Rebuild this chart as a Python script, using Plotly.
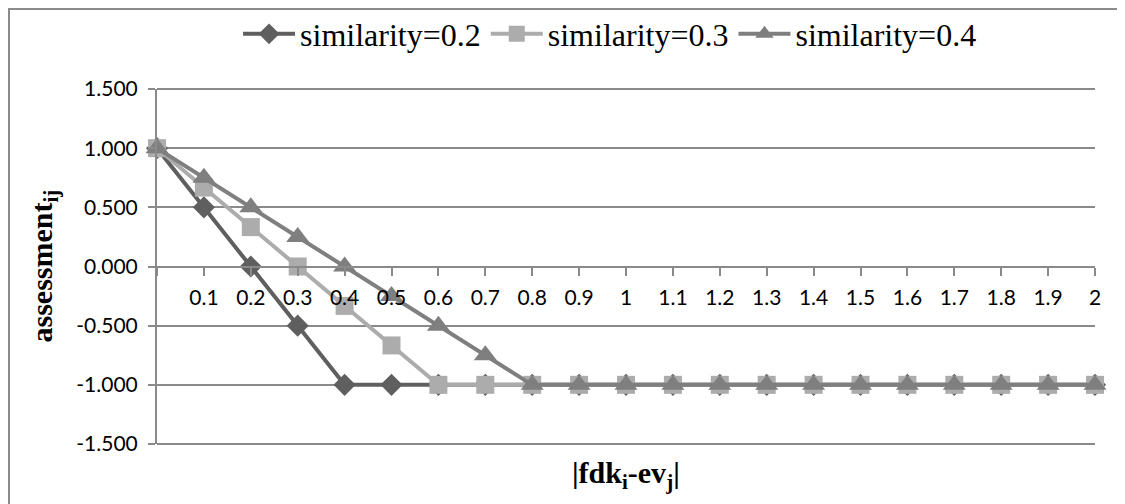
import plotly.graph_objects as go

x_values = [0, 0.1, 0.2, 0.3, 0.4, 0.5, 0.6, 0.7, 0.8, 0.9, 1.0,
            1.1, 1.2, 1.3, 1.4, 1.5, 1.6, 1.7, 1.8, 1.9, 2.0]
x_tick_labels = ["", "0.1", "0.2", "0.3", "0.4", "0.5", "0.6", "0.7", "0.8", "0.9", "1",
                 "1.1", "1.2", "1.3", "1.4", "1.5", "1.6", "1.7", "1.8", "1.9", "2"]
sim02 = [1.0, 0.5, 0.0, -0.5, -1.0, -1.0, -1.0, -1.0, -1.0, -1.0, -1.0,
         -1.0, -1.0, -1.0, -1.0, -1.0, -1.0, -1.0, -1.0, -1.0, -1.0]
sim03 = [1.0, 0.667, 0.333, 0.0, -0.333, -0.667, -1.0, -1.0, -1.0, -1.0, -1.0,
         -1.0, -1.0, -1.0, -1.0, -1.0, -1.0, -1.0, -1.0, -1.0, -1.0]
sim04 = [1.0, 0.75, 0.5, 0.25, 0.0, -0.25, -0.5, -0.75, -1.0, -1.0, -1.0,
         -1.0, -1.0, -1.0, -1.0, -1.0, -1.0, -1.0, -1.0, -1.0, -1.0]
y_ticks = [-1.5, -1.0, -0.5, 0.0, 0.5, 1.0, 1.5]
y_tick_labels = ["-1.500", "-1.000", "-0.500", "0.000", "0.500", "1.000", "1.500"]

series = [
    ("similarity=0.2", sim02, "#5f5f5f", "diamond", 17),
    ("similarity=0.3", sim03, "#acacac", "square", 18),
    ("similarity=0.4", sim04, "#7f7f7f", "triangle-up", 20),
]

W, H = 1117, 496
ML, MR, MT, MB = 149, 30, 81, 60
PW, PH = W - ML - MR, H - MT - MB
SERIF = "Liberation Serif, Times New Roman, DejaVu Serif, serif"

fig = go.Figure()
for name, ys, color, sym, size in series:
    fig.add_trace(go.Scatter(
        x=x_values, y=ys, name=name, mode="lines+markers",
        line=dict(color=color, width=4),
        marker=dict(symbol=sym, size=size, color=color, line=dict(width=0)),
        cliponaxis=False,
    ))

grid = "#8a8a8a"
fig.update_layout(
    width=W, height=H,
    margin=dict(l=ML, r=MR, t=MT, b=MB, autoexpand=False),
    paper_bgcolor="white", plot_bgcolor="white",
    showlegend=True,
    legend=dict(orientation="h", x=0.483, xanchor="center", y=1 + 55 / PH, yanchor="middle",
                font=dict(family=SERIF, size=32, color="black"),
                itemwidth=52, traceorder="normal", bgcolor="rgba(0,0,0,0)"),
    xaxis=dict(
        range=[0, 2], tickmode="array", tickvals=x_values, ticktext=x_tick_labels,
        showgrid=False, zeroline=False, showline=True, linecolor=grid, linewidth=2,
        ticks="outside", ticklen=8, tickcolor=grid, tickwidth=2,
        anchor="free", position=0.5, ticklabelstandoff=4,
        tickfont=dict(family="Lato", size=21, color="black"),
    ),
    yaxis=dict(
        range=[-1.5, 1.5], tickmode="array", tickvals=y_ticks, ticktext=y_tick_labels,
        showgrid=True, gridcolor=grid, gridwidth=2, zeroline=False,
        showline=True, linecolor=grid, linewidth=2,
        ticks="outside", ticklen=7, tickcolor=grid, tickwidth=2, ticklabelstandoff=6,
        tickfont=dict(family="Lato", size=21, color="black"),
    ),
    annotations=[
        dict(text="<b>assessment<sub>ij</sub></b>", xref="paper", yref="paper",
             x=(35 - ML) / PW, y=0.5, xanchor="center", yanchor="middle", textangle=-90,
             showarrow=False, font=dict(family=SERIF, size=30, color="black")),
        dict(text="<b>|fdk<sub>i</sub>-ev<sub>j</sub>|</b>", xref="paper", yref="paper",
             x=0.5, y=-31 / PH, xanchor="center", yanchor="middle",
             showarrow=False, font=dict(family=SERIF, size=30, color="black")),
    ],
    shapes=[
        dict(type="rect", xref="paper", yref="paper", x0=-(ML - 1) / PW, x1=1.2,
             y0=-0.4, y1=1 + (MT - 1) / PH,
             line=dict(color=grid, width=2), fillcolor="rgba(0,0,0,0)", layer="below"),
        dict(type="line", xref="paper", yref="paper", x0=0, x1=1, y0=1, y1=1,
             line=dict(color=grid, width=2), layer="below"),
        dict(type="line", xref="paper", yref="paper", x0=0, x1=1, y0=0, y1=0,
             line=dict(color=grid, width=2), layer="below"),
    ],
)

fig.write_html("out.html")
